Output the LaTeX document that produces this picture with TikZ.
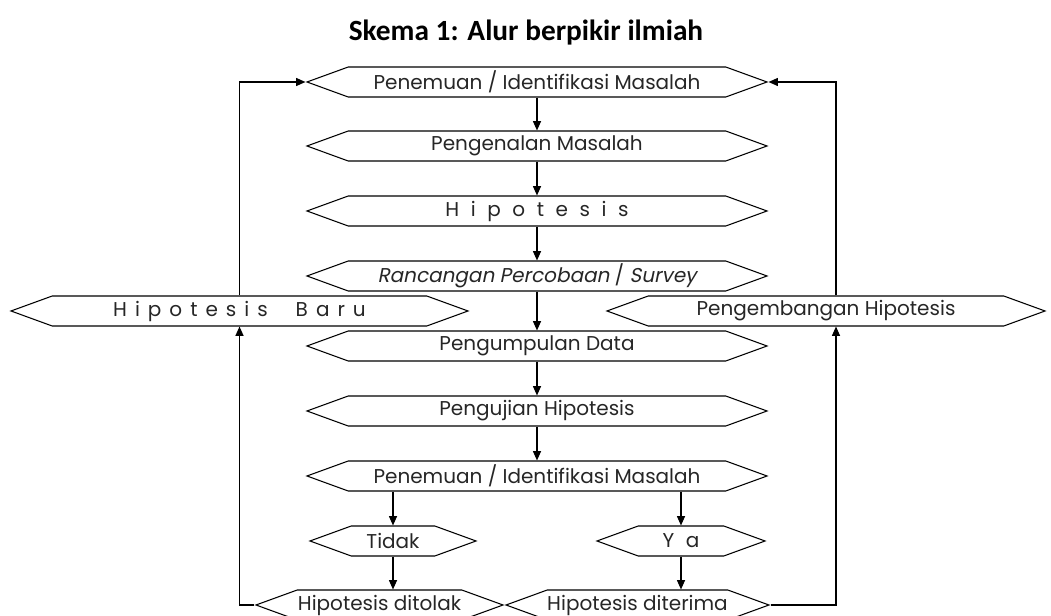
\documentclass[tikz,border=0pt]{standalone}
\usepackage{fontspec}
\setmainfont{Poppins}
\newfontfamily\judulfont{Carlito}
\newfontfamily\miringfont{Poppins}[FakeSlant=0.2]
\usetikzlibrary{arrows.meta,shapes.symbols}
\tikzset{
  tahap/.style={
    signal,
    signal to=west and east,
    signal pointer angle=40,
    draw,
    line width=0.8pt,
    minimum height=22.5pt,
    inner sep=0pt,
    text=black!85,
    font=\fontsize{15}{17}\selectfont
  },
  renggang/.style={
    execute at begin node={\spaceskip=#1\relax}
  },
  renggang/.default=0.58em,
  panah/.style={
    -{Triangle[length=7pt,width=6pt]},
    line width=0.9pt
  }
}

\begin{document}
\begin{tikzpicture}[x=0.75pt,y=-0.75pt]
\useasboundingbox (0,0) rectangle (1051,616);
% judul
\node[font=\judulfont\bfseries\fontsize{22}{26}\selectfont] (judul) at (526,33) {Skema 1: Alur berpikir ilmiah};
% kolom utama
\node[tahap,minimum width=345pt] (b1) at (537,82) {Penemuan / Identifikasi Masalah};
\node[tahap,minimum width=345pt] (b2) at (537,146) {Pengenalan Masalah};
\node[tahap,renggang,minimum width=345pt] (b3) at (537,211) {H i p o t e s i s};
\node[tahap,minimum width=345pt] (b4) at (537,276) {\miringfont Rancangan Percobaan \normalfont/ \miringfont Survey};
\node[tahap,minimum width=345pt] (b5) at (537,346) {Pengumpulan Data};
\node[tahap,minimum width=345pt] (b6) at (537,411) {Pengujian Hipotesis};
\node[tahap,minimum width=345pt] (b7) at (537,476) {Penemuan / Identifikasi Masalah};
% samping
\node[tahap,renggang=0.4em,minimum width=342.75pt] (baru) at (239.5,311) {H i p o t e s i s \hspace{0.6em} B a r u};
\node[tahap,minimum width=328.5pt] (kembang) at (826,311) {Pengembangan Hipotesis};
% cabang
\node[tahap,minimum width=124.5pt] (tidak) at (393,541) {Tidak};
\node[tahap,renggang,minimum width=126pt] (ya) at (681,541) {Y a};
\node[tahap,minimum width=185.25pt] (tolak) at (379.5,605) {Hipotesis ditolak};
\node[tahap,minimum width=194.25pt] (terima) at (637.5,605) {Hipotesis diterima};
\coordinate (kanan) at (836,311);

\foreach \a/\b in {b1/b2,b2/b3,b3/b4,b4/b5,b5/b6,b6/b7}
  \draw[panah] (\a.south) -- (\b.north);
\draw[panah] (b7.south -| tidak.north) -- (tidak.north);
\draw[panah] (b7.south -| ya.north) -- (ya.north);
\draw[panah] (tidak.south) -- (tolak.north -| tidak.south);
\draw[panah] (ya.south) -- (terima.north -| ya.south);
% umpan balik
\draw[panah] (baru.north) |- (b1.west);
\draw[panah] (tolak.west) -| (baru.south);
\draw[panah] (kanan |- kembang.north) |- (b1.east);
\draw[panah] (terima.east) -| (kanan |- kembang.south);
\end{tikzpicture}
\end{document}
